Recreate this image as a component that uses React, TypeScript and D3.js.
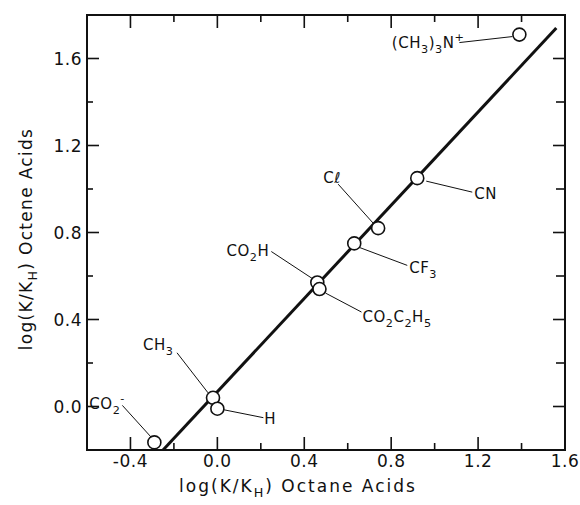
import React from "react";
import * as d3 from "d3";

// substituent labels: "_x" = subscript char, "^x" = superscript char
const groups = ["CO_2^-", "CH_3", "H", "CO_2H", "CO_2C_2H_5", "CF_3", "Cℓ", "CN", "(CH_3)_3N^+"];
const octaneLogK = [-0.29, -0.02, 0.0, 0.46, 0.47, 0.63, 0.74, 0.92, 1.39];
const octeneLogK = [-0.165, 0.04, -0.01, 0.57, 0.54, 0.75, 0.82, 1.05, 1.71];

// correlation line end points
const fitX = [-0.25, 1.56];
const fitY = [-0.2, 1.74];

const xTickLabels = ["-0.4", "0.0", "0.4", "0.8", "1.2", "1.6"];
const yTickLabels = ["0.0", "0.4", "0.8", "1.2", "1.6"];

// label placement relative to each circle (pixels): text anchor point, leader start/end
const labelLayout = [
  { tx: -65, ty: -33, anchor: "start", l: [-32, -37, -3, -5] },
  { tx: -70, ty: -48, anchor: "start", l: [-36, -45, -5, -5] },
  { tx: 47, ty: 15, anchor: "start", l: [6, 1, 46, 9] },
  { tx: -48, ty: -27, anchor: "end", l: [-46, -31, -5, -4] },
  { tx: 43, ty: 33, anchor: "start", l: [6, 4, 42, 23] },
  { tx: 55, ty: 30, anchor: "start", l: [5, 4, 53, 22] },
  { tx: -55, ty: -45, anchor: "start", l: [-40, -44, -5, -5] },
  { tx: 57, ty: 21, anchor: "start", l: [9, 3, 55, 14] },
  { tx: -55, ty: 13, anchor: "end", l: [-60, 8, -7, 2] },
];

const W = 580;
const H = 505;
const left = 87, right = 565, top = 15, bottom = 450;
const font = "'DejaVu Sans', sans-serif";

const x = d3.scaleLinear().domain([-0.6, 1.6]).range([left, right]);
const y = d3.scaleLinear().domain([-0.2, 1.8]).range([bottom, top]);

function Chem({ s }: { s: string }) {
  const parts: React.ReactNode[] = [];
  let shift = 0;
  for (let i = 0; i < s.length; i++) {
    const c = s[i];
    if ((c === "_" || c === "^") && i + 1 < s.length) {
      const ch = s[i + 1];
      const dy = c === "_" ? 5 : -7;
      parts.push(
        <tspan key={i} dy={dy - shift} fontSize="0.75em">{ch}</tspan>
      );
      shift = dy;
      i++;
    } else {
      parts.push(<tspan key={i} dy={-shift}>{c}</tspan>);
      shift = 0;
    }
  }
  return <>{parts}</>;
}

export default function App() {
  const line = d3.line<number>()
    .x((d) => x(d))
    .y((_, i) => y(fitY[i]));

  const xTicks = d3.range(-2, 8); // multiples of 0.2
  const yTicks = d3.range(0, 9);

  return (
    <svg width={W} height={H} style={{ position: "absolute", left: 0, top: 0, background: "#fff" }}
      fontFamily={font}>
      {/* frame */}
      <rect x={left} y={top} width={right - left} height={bottom - top}
        fill="none" stroke="#111" strokeWidth={2} />

      {/* x ticks top and bottom */}
      {xTicks.map((i) => {
        const px = x(i * 0.2);
        const len = i % 2 === 0 ? 13 : 7;
        return (
          <g key={"xt" + i} stroke="#111" strokeWidth={1.6}>
            <line x1={px} x2={px} y1={bottom} y2={bottom - len} />
            <line x1={px} x2={px} y1={top} y2={top + len} />
          </g>
        );
      })}
      {/* y ticks left and right */}
      {yTicks.map((i) => {
        const py = y(i * 0.2);
        const len = i % 2 === 0 ? 12 : 6;
        return (
          <g key={"yt" + i} stroke="#111" strokeWidth={1.6}>
            <line x1={left} x2={left + len} y1={py} y2={py} />
            <line x1={right} x2={right - (i % 2 === 0 ? 12 : 9)} y1={py} y2={py} />
          </g>
        );
      })}

      {/* tick labels */}
      {xTickLabels.map((t) => (
        <text key={t} x={x(+t)} y={bottom + 17} textAnchor="middle" fontSize={17}
          letterSpacing={0.5} fill="#111">{t}</text>
      ))}
      {yTickLabels.map((t) => (
        <text key={t} x={left - 5} y={y(+t)} dy="0.36em" textAnchor="end" fontSize={17}
          letterSpacing={0.5} fill="#111">{t}</text>
      ))}

      {/* axis titles */}
      <text x={298} y={492} textAnchor="middle" fontSize={17} letterSpacing={2} fill="#111">
        <Chem s="log(K/K_H)  Octane Acids" />
      </text>
      <text transform="translate(32,239) rotate(-90)" textAnchor="middle" fontSize={17}
        letterSpacing={1.3} fill="#111">
        <Chem s="log(K/K_H) Octene Acids" />
      </text>

      {/* correlation line */}
      <path d={line(fitX) || ""} fill="none" stroke="#111" strokeWidth={3} />

      {/* leader lines and labels */}
      {groups.map((g, i) => {
        const cx = x(octaneLogK[i]);
        const cy = y(octeneLogK[i]);
        const L = labelLayout[i];
        return (
          <g key={"lab" + i}>
            <line x1={cx + L.l[0]} y1={cy + L.l[1]} x2={cx + L.l[2]} y2={cy + L.l[3]}
              stroke="#111" strokeWidth={1} />
            <text x={cx + L.tx} y={cy + L.ty} textAnchor={L.anchor as any} fontSize={15}
              letterSpacing={0.5} fill="#111">
              <Chem s={g} />
            </text>
          </g>
        );
      })}

      {/* points */}
      {groups.map((g, i) => (
        <circle key={"pt" + i} cx={x(octaneLogK[i])} cy={y(octeneLogK[i])} r={6.5}
          fill="#fff" stroke="#111" strokeWidth={1.6} />
      ))}
    </svg>
  );
}
